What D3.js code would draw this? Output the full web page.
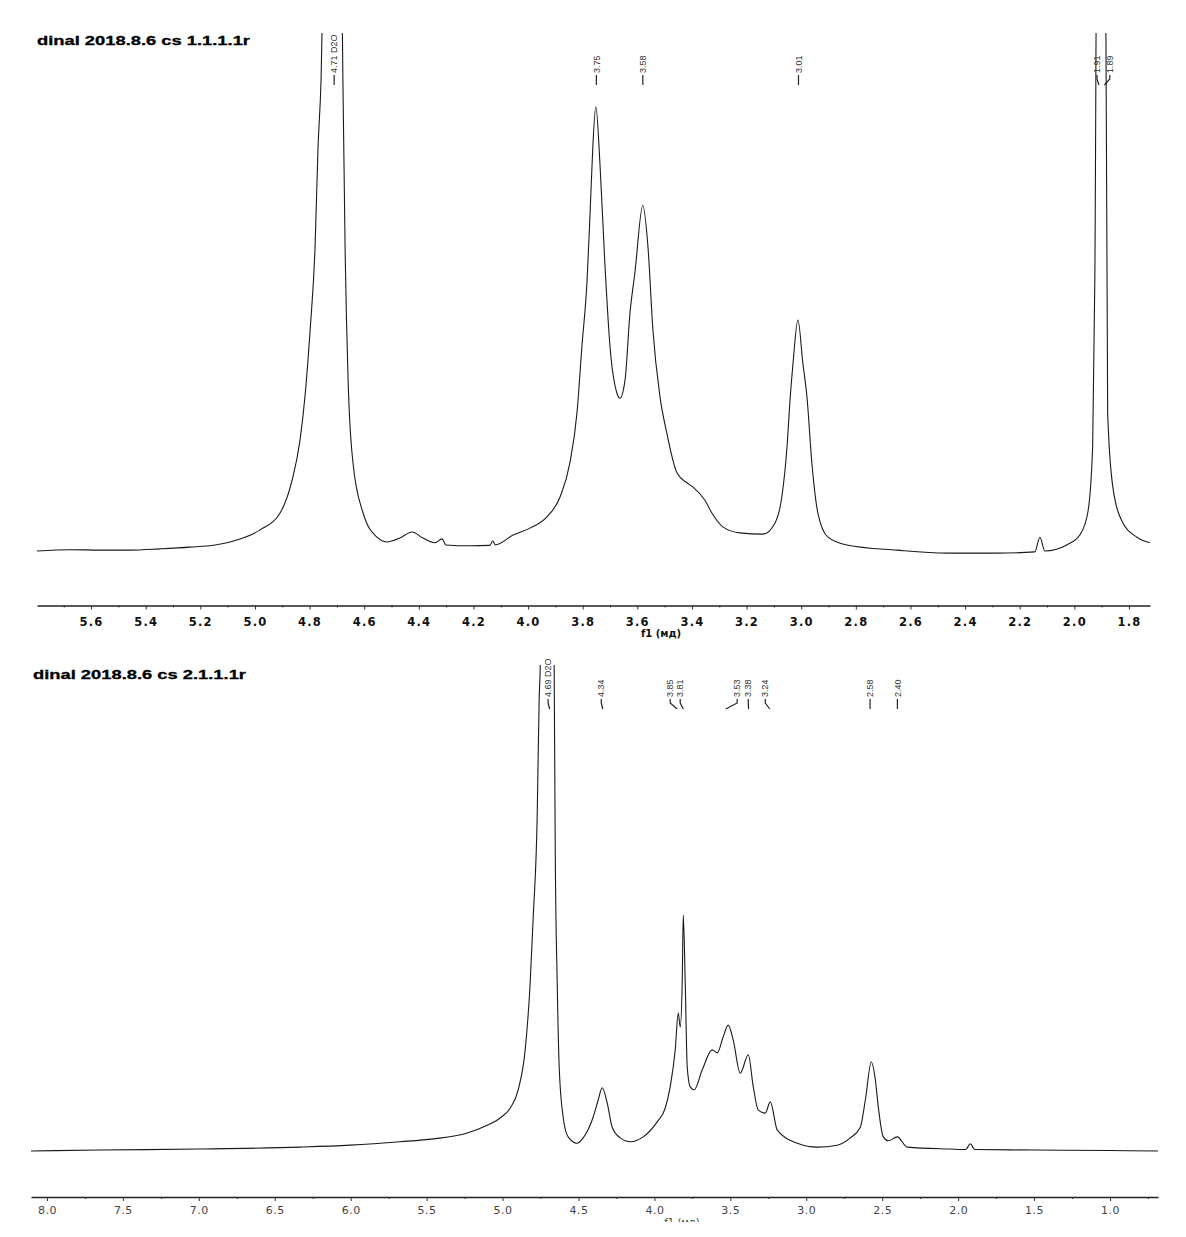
<!DOCTYPE html>
<html>
<head>
<meta charset="utf-8">
<script src="https://cdn.jsdelivr.net/npm/d3@7"></script>
<style>
	body { margin: 0; background: #fff; }
	svg { display: block; }
</style>
</head>
<body>
<div id="chart"></div>
<script>
// spectrum 1 (dinal 2018.8.6 cs 1.1.1.1r), shift in ppm, relative intensity
var spec1Shift = [5.798, 5.677, 5.567, 5.457, 5.347, 5.238, 5.146, 5.091, 4.981, 4.908, 4.864, 4.835, 4.817, 4.798, 4.780, 4.769, 4.758, 4.745, 4.71, 4.685, 4.678, 4.670, 4.659, 4.641, 4.604, 4.553, 4.517, 4.469, 4.425, 4.385, 4.341, 4.315, 4.301, 4.213, 4.14, 4.129, 4.12, 4.055, 3.993, 3.931, 3.883, 3.847, 3.821, 3.803, 3.784, 3.773, 3.763, 3.752, 3.737, 3.719, 3.700, 3.675, 3.664, 3.645, 3.627, 3.609, 3.580, 3.561, 3.543, 3.517, 3.492, 3.455, 3.418, 3.396, 3.353, 3.327, 3.287, 3.225, 3.140, 3.096, 3.071, 3.052, 3.041, 3.030, 3.012, 2.994, 2.979, 2.961, 2.939, 2.902, 2.833, 2.650, 2.467, 2.284, 2.145, 2.126, 2.108, 2.028, 1.980, 1.951, 1.933, 1.925, 1.91, 1.90, 1.89, 1.885, 1.878, 1.859, 1.822, 1.771, 1.724];
var spec1Intensity = [0, 0.3, 0.2, 0.2, 0.5, 0.9, 1.4, 2.1, 4.9, 8.8, 16.4, 25.7, 35.7, 51.2, 70.4, 93.6, 109.1, 150, 220, 150, 109.1, 70.4, 39.6, 20.4, 8.8, 3.2, 2.1, 3.0, 4.4, 3.0, 1.9, 2.8, 1.4, 1.2, 1.3, 2.3, 1.4, 3.7, 5.3, 7.9, 12.5, 20.4, 32.0, 47.3, 62.8, 78.3, 93.6, 102.9, 89.9, 66.7, 47.3, 36.6, 35.4, 39.6, 55.1, 64.4, 80.1, 70.4, 51.2, 35.7, 27.3, 18.1, 15.8, 14.8, 11.8, 8.8, 5.6, 4.2, 3.9, 6.5, 12.5, 24.1, 35.0, 43.5, 53.5, 43.5, 35.7, 20.4, 8.8, 3.2, 1.4, 0.2, -0.5, -0.5, -0.2, 3.2, 0, 1.4, 3.7, 8.8, 24.1, 62.8, 250, 180, 250, 130, 32.0, 14.8, 6.5, 3.2, 1.9];

// spectrum 2 (dinal 2018.8.6 cs 2.1.1.1r)
var spec2Shift = [8.105, 7.651, 6.992, 6.333, 6.004, 5.675, 5.457, 5.233, 5.101, 5.016, 4.950, 4.897, 4.851, 4.818, 4.798, 4.772, 4.759, 4.752, 4.74, 4.69, 4.665, 4.660, 4.653, 4.640, 4.627, 4.601, 4.568, 4.509, 4.469, 4.403, 4.370, 4.344, 4.311, 4.278, 4.225, 4.159, 4.074, 3.982, 3.929, 3.896, 3.863, 3.843, 3.830, 3.817, 3.810, 3.797, 3.784, 3.764, 3.738, 3.685, 3.619, 3.586, 3.547, 3.514, 3.481, 3.435, 3.382, 3.349, 3.316, 3.270, 3.237, 3.191, 3.059, 2.928, 2.796, 2.710, 2.644, 2.611, 2.572, 2.545, 2.526, 2.493, 2.460, 2.401, 2.335, 2.051, 1.95, 1.92, 1.89, 1.5, 1.0, 0.684];
var spec2Intensity = [0, 0.2, 0.4, 0.8, 1.2, 1.9, 2.5, 3.7, 5.3, 6.8, 8.8, 12.6, 20.8, 34.6, 48.1, 68.7, 92.8, 99.6, 130, 190, 130, 99.6, 61.9, 34.6, 17.3, 7.0, 2.9, 1.6, 2.7, 7.0, 10.5, 13.0, 9.9, 4.9, 2.7, 1.9, 2.9, 6.0, 8.8, 13.2, 20.8, 28.4, 25.5, 34.6, 48.6, 34.6, 17.3, 13.2, 12.6, 16.7, 20.8, 20.2, 23.5, 25.9, 22.8, 16.0, 19.8, 13.2, 8.4, 7.8, 10.1, 4.3, 1.6, 0.8, 1.2, 2.7, 4.9, 10.5, 18.3, 14.6, 9.1, 2.9, 2.1, 2.9, 0.8, 0.4, 0.3, 1.5, 0.3, 0.2, 0.1, 0];

// axis ticks
var spec1Ticks = [5.6, 5.4, 5.2, 5.0, 4.8, 4.6, 4.4, 4.2, 4.0, 3.8, 3.6, 3.4, 3.2, 3.0, 2.8, 2.6, 2.4, 2.2, 2.0, 1.8];
var spec1MinorTicks = [5.7, 5.5, 5.3, 5.1, 4.9, 4.7, 4.5, 4.3, 4.1, 3.9, 3.7, 3.5, 3.3, 3.1, 2.9, 2.7, 2.5, 2.3, 2.1, 1.9];
var spec2Ticks = [8.0, 7.5, 7.0, 6.5, 6.0, 5.5, 5.0, 4.5, 4.0, 3.5, 3.0, 2.5, 2.0, 1.5, 1.0];
var spec2MinorTicks = [7.75, 7.25, 6.75, 6.25, 5.75, 5.25, 4.75, 4.25, 3.75, 3.25, 2.75, 2.25, 1.75, 1.25, 0.75];

// peak picking labels: text, real shift, shift where the label sits
var spec1PeakText = ["4.71 D2O", "3.75", "3.58", "3.01", "1.91", "1.89"];
var spec1PeakShift = [4.71, 3.75, 3.58, 3.01, 1.91, 1.89];
var spec1PeakLabelAt = [4.71, 3.75, 3.58, 3.01, 1.917, 1.870];
var spec2PeakText = ["4.69 D2O", "4.34", "3.85", "3.81", "3.53", "3.38", "3.24", "2.58", "2.40"];
var spec2PeakShift = [4.69, 4.34, 3.85, 3.81, 3.53, 3.38, 3.24, 2.58, 2.40];
var spec2PeakLabelAt = [4.70, 4.35, 3.896, 3.83, 3.455, 3.382, 3.27, 2.58, 2.40];

var width = 1186;
var height = 1237;

var svg = d3.select("#chart")
	.append("svg")
	.attr("width", width)
	.attr("height", height);

var defs = svg.append("defs");

function drawPanel(opt) {
	var x = d3.scaleLinear().domain(opt.shiftDomain).range([opt.left, opt.right]);
	var y = d3.scaleLinear().domain(opt.intDomain).range([opt.baseY, opt.topY]);

	defs.append("clipPath")
		.attr("id", opt.id + "-clip")
		.append("rect")
		.attr("x", opt.left)
		.attr("y", opt.topY)
		.attr("width", opt.right - opt.left)
		.attr("height", opt.axisY - opt.topY - 4);

	var g = svg.append("g").attr("class", opt.id);

	// title
	g.append("text")
		.attr("x", opt.titleX)
		.attr("y", opt.titleY)
		.attr("dy", "0.35em")
		.style("font-family", "'Liberation Sans', Arial, sans-serif")
		.style("font-weight", "900")
		.style("font-size", "13px")
		.style("stroke", "#000")
		.style("stroke-width", "0.3px")
		.attr("textLength", 213)
		.attr("lengthAdjust", "spacingAndGlyphs")
		.text(opt.title);

	// spectrum
	var pts = opt.shift.map(function (s, i) {
		return [s, opt.intensity[i]];
	});
	var line = d3.line()
		.x(function (d) { return x(d[0]); })
		.y(function (d) { return y(d[1]); })
		.curve(d3.curveMonotoneX);

	g.append("path")
		.datum(pts)
		.attr("clip-path", "url(#" + opt.id + "-clip)")
		.attr("fill", "none")
		.attr("stroke", "#1a1a1a")
		.attr("stroke-width", 1.1)
		.attr("d", line);

	// peak labels
	var labels = g.append("g").attr("class", "peaks");
	opt.peakText.forEach(function (t, i) {
		var lx = x(opt.peakLabelAt[i]);
		var px = x(opt.peakShift[i]);
		labels.append("text")
			.attr("transform", "translate(" + lx + "," + opt.labelBottom + ") rotate(-90)")
			.attr("dy", "0.35em")
			.attr("text-anchor", "start")
			.style("font-family", "'Liberation Sans Narrow', 'Liberation Sans', Arial, sans-serif")
			.style("font-stretch", "condensed")
			.style("font-size", "9px")
			.style("fill", "#333")
			.text(t);
		labels.append("path")
			.attr("d", "M" + lx + "," + (opt.labelBottom + 2) + "L" + lx + "," + (opt.labelBottom + 6) + "L" + px + "," + (opt.labelBottom + 12))
			.attr("fill", "none")
			.attr("stroke", "#222")
			.attr("stroke-width", 1.2);
	});

	// axis
	var minor = g.append("g")
		.attr("transform", "translate(0," + opt.axisY + ")")
		.call(d3.axisBottom(x).tickValues(opt.minorTicks).tickSize(2).tickSizeOuter(0).tickFormat(""));
	minor.select(".domain").remove();
	minor.selectAll("line").attr("stroke", "#333");

	var axis = g.append("g")
		.attr("transform", "translate(0," + opt.axisY + ")")
		.call(d3.axisBottom(x).tickValues(opt.ticks).tickSize(4).tickSizeOuter(0).tickPadding(opt.tickPadding).tickFormat(d3.format(".1f")));
	axis.select(".domain").attr("stroke", "#222").attr("stroke-width", 1.6);
	axis.selectAll("line").attr("stroke", "#333");
	axis.selectAll("text")
		.style("font-family", "'DejaVu Sans', Verdana, sans-serif")
		.style("font-size", opt.tickFont)
		.style("font-weight", opt.tickWeight)
		.style("letter-spacing", opt.tickSpacing)
		.style("fill", opt.tickColor);

	var xl = g.append("text")
		.attr("x", opt.xLabelX)
		.attr("y", opt.xLabelY)
		.attr("dy", "0.35em")
		.attr("text-anchor", "middle")
		.style("font-family", "'DejaVu Sans', Verdana, sans-serif")
		.style("font-size", "10px")
		.style("font-weight", opt.tickWeight)
		.style("fill", opt.tickColor)
		.text("f1 (мд)");
	if (opt.xLabelClip) {
		defs.append("clipPath")
			.attr("id", opt.id + "-lclip")
			.append("rect")
			.attr("x", 0)
			.attr("y", opt.axisY)
			.attr("width", width)
			.attr("height", opt.xLabelClip - opt.axisY);
		xl.attr("clip-path", "url(#" + opt.id + "-lclip)");
	}
}

drawPanel({
	id: "spec1",
	title: "dinal 2018.8.6 cs 1.1.1.1r",
	titleX: 37,
	titleY: 40,
	shift: spec1Shift,
	intensity: spec1Intensity,
	shiftDomain: [5.798, 1.723],
	intDomain: [0, 120],
	left: 37,
	right: 1150,
	baseY: 551,
	topY: 33,
	axisY: 605.5,
	ticks: spec1Ticks,
	minorTicks: spec1MinorTicks,
	tickPadding: 8,
	tickFont: "11.5px",
	tickWeight: "bold",
	tickSpacing: "1.2px",
	tickColor: "#111",
	xLabelX: 661,
	xLabelY: 633,
	peakText: spec1PeakText,
	peakShift: spec1PeakShift,
	peakLabelAt: spec1PeakLabelAt,
	labelBottom: 73
});

drawPanel({
	id: "spec2",
	title: "dinal 2018.8.6 cs 2.1.1.1r",
	titleX: 33,
	titleY: 674,
	shift: spec2Shift,
	intensity: spec2Intensity,
	shiftDomain: [8.105, 0.684],
	intDomain: [0, 100],
	left: 31,
	right: 1158,
	baseY: 1151,
	topY: 665,
	axisY: 1197,
	ticks: spec2Ticks,
	minorTicks: spec2MinorTicks,
	tickPadding: 5,
	tickFont: "11px",
	tickWeight: "normal",
	tickSpacing: "0.5px",
	tickColor: "#444",
	xLabelX: 682,
	xLabelY: 1222,
	xLabelClip: 1222,
	peakText: spec2PeakText,
	peakShift: spec2PeakShift,
	peakLabelAt: spec2PeakLabelAt,
	labelBottom: 697
});
</script>
</body>
</html>
